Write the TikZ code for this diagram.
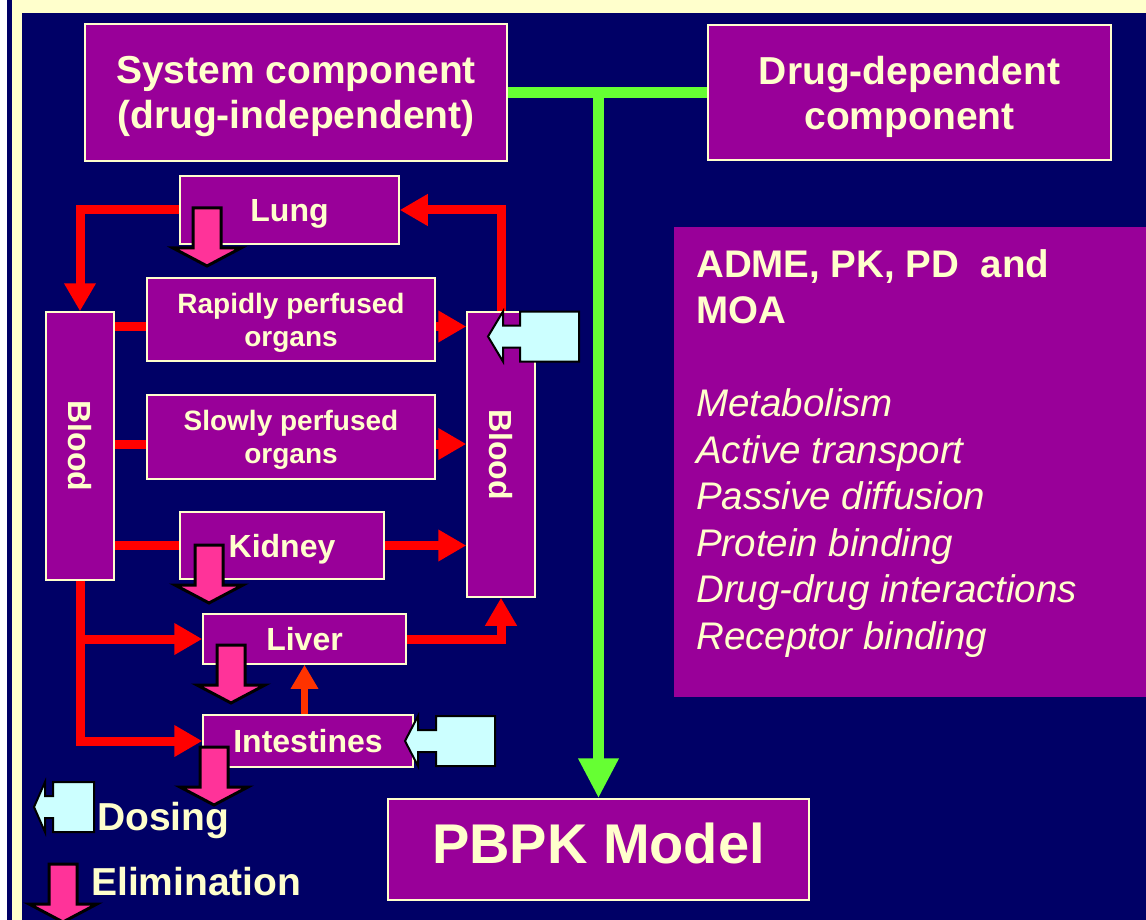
\documentclass[tikz,border=0pt]{standalone}
\usepackage{fontspec}
\setmainfont{Liberation Sans}
\usetikzlibrary{arrows.meta, positioning}
\definecolor{navy}{RGB}{0, 0, 102}
\definecolor{organ}{RGB}{153, 0, 153}
\definecolor{cream}{RGB}{255, 255, 204}
\definecolor{flow}{RGB}{255, 0, 0}
\definecolor{gutflow}{RGB}{255, 51, 0}
\definecolor{model}{RGB}{102, 255, 51}
\definecolor{dose}{RGB}{204, 255, 255}
\definecolor{elim}{RGB}{255, 51, 153}

\tikzset{
  comp/.style={draw=cream, line width=1.5pt, fill=organ, text=cream, inner sep=0pt, align=center},
  flat/.style={comp, text depth=0pt},
  toptext/.style={font=\bfseries\fontsize{39}{45}\selectfont},
  tissuetext/.style={font=\bfseries\fontsize{28}{33}\selectfont},
  organtext/.style={font=\bfseries\fontsize{32}{36}\selectfont},
  legendtext/.style={text=cream, inner sep=0pt, font=\bfseries\fontsize{39}{44}\selectfont},
  flowline/.style={draw=flow, line width=9pt},
  flowarrow/.style={flowline, -{Triangle[length=28pt, width=30pt]}},
  gutarrow/.style={draw=gutflow, line width=7pt, -{Triangle[length=24pt, width=26pt]}},
  modelline/.style={draw=model, line width=11pt},
  modelarrow/.style={modelline, -{Triangle[length=40pt, width=38pt]}}
}

% pink elimination arrow: centre x, top y
\newcommand{\elimarrow}[2]{%
  \draw[black, line width=3pt, fill=elim, line join=miter]
    (#1-14,#2) -- (#1+14,#2) -- (#1+14,#2+40) -- (#1+34,#2+40) -- (#1,#2+58)
    -- (#1-34,#2+40) -- (#1-14,#2+40) -- cycle;}

% dosing arrow: tip x, centre y, head end, neck end, width
\newcommand{\dosearrow}[5]{%
  \draw[black, line width=2pt, fill=dose, line join=miter]
    (#1,#2) -- (#1+#3,#2-25) -- (#1+#3,#2-11) -- (#1+#4,#2-11) -- (#1+#4,#2-25)
    -- (#1+#5,#2-25) -- (#1+#5,#2+25) -- (#1+#4,#2+25) -- (#1+#4,#2+11)
    -- (#1+#3,#2+11) -- (#1+#3,#2+25) -- cycle;}

\begin{document}
\begin{tikzpicture}[x=1pt, y=-1pt]
  \useasboundingbox (0,0) rectangle (1146,920);
  % slide background
  \fill[white] (0,0) rectangle (1146,920);
  \fill[navy] (7,0) rectangle (1146,920);
  \fill[cream] (12,0) rectangle (1146,13);
  \fill[cream] (12,0) rectangle (22,920);

  % components
  \node[flat, toptext, minimum width=422pt, minimum height=137pt] (sys) at (296,92.5) {System component\\(drug-independent)};
  \node[flat, toptext, minimum width=403pt, minimum height=135pt] (drug) at (909.5,92.5) {Drug-dependent\\component};
  \node[flat, font=\bfseries\fontsize{56}{60}\selectfont, text depth=13pt, minimum width=421pt, minimum height=101pt] (pbpk) at (598.5,849.5) {PBPK Model};

  % compartments
  \node[flat, organtext, minimum width=219pt, minimum height=68pt] (lung) at (289.5,210) {Lung};
  \node[flat, tissuetext, minimum width=288pt, minimum height=83pt] (rapid) at (291,319.5) {Rapidly perfused\\organs};
  \node[flat, tissuetext, minimum width=288pt, minimum height=84pt] (slow) at (291,437) {Slowly perfused\\organs};
  \node[flat, organtext, minimum width=204pt, minimum height=67pt] (kidney) at (282,545.5) {Kidney};
  \node[flat, organtext, minimum width=203pt, minimum height=50pt] (liver) at (304.5,639) {Liver};
  \node[flat, organtext, minimum width=210pt, minimum height=52pt] (intest) at (308,741) {Intestines};
  \node[comp, organtext, minimum width=68pt, minimum height=268pt] (bloodL) at (80,446) {\rotatebox{-90}{Blood}};
  \node[comp, organtext, minimum width=68pt, minimum height=285pt] (bloodR) at (501,454.5) {\rotatebox{-90}{Blood}};

  % drug properties panel
  \node[fill=organ, inner sep=0pt, minimum width=472pt, minimum height=470pt] (adme) at (910,462) {};
  \node[anchor=north west, inner sep=0pt, align=left, text=cream, font=\fontsize{38.5}{46.5}\selectfont] (admetext) at (696,249) {%
    \bfseries ADME, PK, PD\ \ and\\
    \bfseries MOA\\[46.5pt]
    \itshape Metabolism\\
    \itshape Active transport\\
    \itshape Passive diffusion\\
    \itshape Protein binding\\
    \itshape Drug-drug interactions\\
    \itshape Receptor binding};

  % model links
  \draw[modelline] (sys.east) -- (drug.west);
  \draw[modelarrow] (sys.east -| pbpk.north) -- (pbpk.north);

  % blood flow
  \coordinate (rapidin) at ([yshift=-7pt]rapid.west);
  \coordinate (rapidout) at ([yshift=-7pt]rapid.east);
  \coordinate (slowin) at ([yshift=-7pt]slow.west);
  \coordinate (slowout) at ([yshift=-7pt]slow.east);
  \draw[flowarrow] (lung.west) -| (bloodL.north);
  \draw[flowarrow] (bloodR.north) |- (lung.east);
  \draw[flowline] (bloodL.east |- rapidin) -- (rapidin);
  \draw[flowarrow] (rapidout) -- (bloodR.west |- rapidout);
  \draw[flowline] (bloodL.east |- slowin) -- (slowin);
  \draw[flowarrow] (slowout) -- (bloodR.west |- slowout);
  \draw[flowline] (bloodL.east |- kidney.west) -- (kidney.west);
  \draw[flowarrow] (kidney.east) -- (bloodR.west |- kidney.east);
  \draw[flowarrow] (bloodL.south) |- (liver.west);
  \draw[flowarrow] (bloodL.south) |- (intest.west);
  \draw[flowarrow] (liver.east) -| (bloodR.south);
  \draw[gutarrow] (liver.south |- intest.north) -- (liver.south);

  % elimination and dosing
  \elimarrow{207}{208}
  \elimarrow{209}{545}
  \elimarrow{231}{645}
  \elimarrow{214}{747}
  \dosearrow{488}{336.5}{15}{32}{91}
  \dosearrow{405}{741}{13}{31}{90}

  % legend
  \dosearrow{34}{807}{11}{19}{60}
  \elimarrow{63}{864}
  \node[legendtext, anchor=base west] (dosingtxt) at (97,830) {Dosing};
  \node[legendtext, anchor=base west] (elimtxt) at (91,895) {Elimination};
\end{tikzpicture}
\end{document}
